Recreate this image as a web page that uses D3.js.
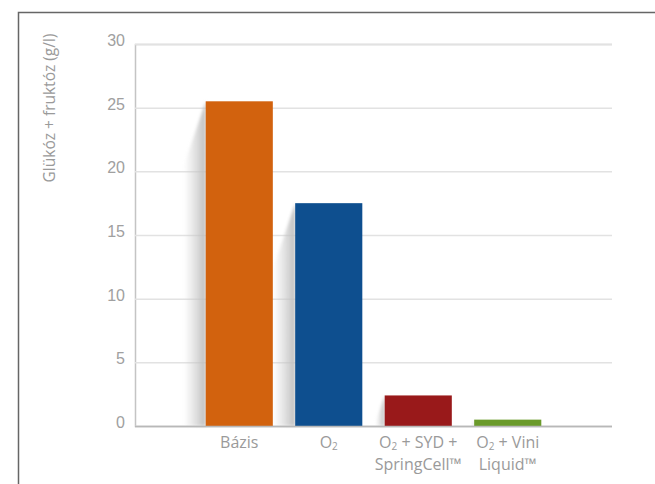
<!DOCTYPE html>
<html>
<head>
<meta charset="utf-8">
<script src="https://cdn.jsdelivr.net/npm/d3@7"></script>
<style>
  html, body { margin: 0; padding: 0; background: #fff; }
  svg { display: block; font-family: "Open Sans", "Noto Sans", sans-serif; }
</style>
</head>
<body>
<svg id="chart" width="655" height="484"></svg>
<script>
// Residual sugar (glucose + fructose) per treatment
const categories = ["Bázis", "O₂", "O₂ + SYD +|SpringCell™", "O₂ + Vini|Liquid™"];
const values = [25.5, 17.5, 2.4, 0.5];
const barColors = ["#d2620e", "#0e4f8f", "#99191a", "#6a9a2a"];
const yTicks = [0, 5, 10, 15, 20, 25, 30];
const yLabel = "Glükóz + fruktóz (g/l)";

const svg = d3.select("#chart");
const plotLeft = 135, plotRight = 612, plotTop = 44, plotBottom = 426;

const x = d3.scaleBand().domain(categories).range([plotLeft, plotRight])
  .paddingInner(0.25).paddingOuter(0.79);
const y = d3.scaleLinear().domain([0, 30]).range([plotBottom, plotTop]);

// frame
svg.append("path")
  .attr("d", "M18.5,484 L18.5,12.5 L655,12.5")
  .attr("fill", "none").attr("stroke", "#666").attr("stroke-width", 1.5);

const defs = svg.append("defs");
const grad = defs.append("linearGradient").attr("id", "shade")
  .attr("x1", "0").attr("x2", "1").attr("y1", "0").attr("y2", "0");
grad.append("stop").attr("offset", "0%").attr("stop-color", "#d0d0d0").attr("stop-opacity", 0);
grad.append("stop").attr("offset", "100%").attr("stop-color", "#bdbdbd").attr("stop-opacity", 1);
defs.append("filter").attr("id", "soft").attr("x", "-50%").attr("width", "200%")
  .append("feGaussianBlur").attr("stdDeviation", 1.5);

// gridlines and y ticks
const yAxis = d3.axisLeft(y).tickValues(yTicks).tickSize(-(plotRight - plotLeft)).tickPadding(10);
const gy = svg.append("g").attr("transform", `translate(${plotLeft},0)`).call(yAxis);
gy.select(".domain").attr("stroke", "#c4c4c4").attr("stroke-width", 1.5);
gy.selectAll(".tick line").attr("stroke", "#e2e2e2").attr("stroke-width", 1.5);
gy.selectAll(".tick text").attr("fill", "#a0a0a0").attr("font-size", 16).attr("x", -10)
  .attr("dy", "0.1em");

// slanted shading to the left of each bar
svg.append("g").selectAll("path").data(values).join("path")
  .attr("d", (d, i) => {
    const x0 = x(categories[i]);
    const yt = y(d);
    const h = plotBottom - yt;
    const dx = Math.min(22, h * 0.3);
    const dy = Math.min(65, h * 0.9);
    return `M${x0},${yt} L${x0 - dx},${yt + dy} L${x0 - dx},${plotBottom} L${x0},${plotBottom} Z`;
  })
  .attr("fill", "url(#shade)").attr("filter", "url(#soft)");

// bars
svg.append("g").selectAll("rect").data(values).join("rect")
  .attr("x", (d, i) => x(categories[i]))
  .attr("y", d => y(d))
  .attr("width", x.bandwidth())
  .attr("height", d => plotBottom - y(d))
  .attr("fill", (d, i) => barColors[i]);

// baseline over the bars
svg.append("line").attr("x1", plotLeft).attr("x2", plotRight)
  .attr("y1", plotBottom + 0.5).attr("y2", plotBottom + 0.5)
  .attr("stroke", "#b8b8b8").attr("stroke-width", 1.5);

// category labels, "₂" set as a real subscript
const lab = svg.append("g").attr("fill", "#9a9a9a").attr("font-size", 16).attr("text-anchor", "middle");
categories.forEach(c => {
  const cx = x(c) + x.bandwidth() / 2;
  c.split("|").forEach((line, li) => {
    const t = lab.append("text").attr("x", cx).attr("y", 448 + li * 22);
    const parts = line.split("₂");
    parts.forEach((part, pi) => {
      if (pi > 0) {
        t.append("tspan").attr("font-size", 10).attr("dy", 2).text("2");
        if (part) t.append("tspan").attr("dy", -2).text(part);
      } else if (part) {
        t.append("tspan").text(part);
      }
    });
  });
});

// y-axis title
svg.append("text")
  .attr("transform", "translate(50,108) rotate(-90)")
  .attr("text-anchor", "middle").attr("dy", "0.35em")
  .attr("fill", "#9a9a9a").attr("font-size", 15.5)
  .text(yLabel);
</script>
</body>
</html>
